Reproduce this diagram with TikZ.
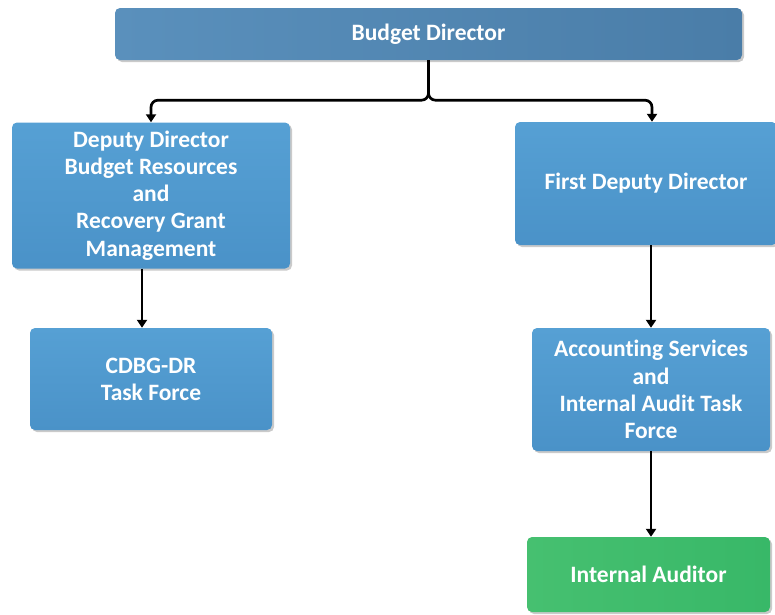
\documentclass[tikz,border=0pt]{standalone}
\usepackage{fontspec}
\setmainfont[Ligatures=NoCommon]{Carlito}
\usetikzlibrary{arrows.meta,shadows}
\definecolor{bdA}{HTML}{5A90BC}
\definecolor{bdB}{HTML}{4A7DA8}
\definecolor{blA}{HTML}{56A0D4}
\definecolor{blB}{HTML}{4A92C8}
\definecolor{grA}{HTML}{46C070}
\definecolor{grB}{HTML}{38B868}
\begin{document}
\begin{tikzpicture}[x=1pt,y=-1pt,
  box/.style={rectangle,rounded corners=5pt,text=white,align=center,
    font=\fontsize{23.5}{27.2}\selectfont\bfseries,inner sep=0pt,
    drop shadow={shadow xshift=2pt,shadow yshift=-2pt,opacity=0.35,fill=black!60}},
  bluebox/.style={box,top color=blA,bottom color=blB},
  bdbox/.style={box,left color=bdA,right color=bdB},
  grbox/.style={box,left color=grA,right color=grB},
  conn/.style={draw=black,line width=2.7pt,-{Triangle[width=10pt,length=8pt]}}]
\useasboundingbox (0,0) rectangle (775,614);
\node[bdbox,minimum width=627pt,minimum height=52pt] (bd) at (428.5,34) {Budget Director};
\node[bluebox,minimum width=278pt,minimum height=146pt] (dd) at (151,195.5) {Deputy Director\\Budget Resources\\and\\Recovery Grant\\Management};
\node[bluebox,minimum width=262pt,minimum height=123pt] (fd) at (646,183.5) {First Deputy Director};
\node[bluebox,minimum width=242pt,minimum height=102pt] (cd) at (151,379) {CDBG-DR\\Task Force};
\node[bluebox,minimum width=238pt,minimum height=123pt] (as) at (651,389.5) {Accounting Services\\and\\Internal Audit Task\\Force};
\node[grbox,minimum width=243pt,minimum height=75pt] (ia) at (648.5,574.5) {Internal Auditor};
\draw[conn,rounded corners=7pt] (bd.south) -- ++(0,40) -| (dd.north -| 151,0);
\draw[conn,rounded corners=7pt] (bd.south) -- ++(0,40) -| (fd.north -| 652,0);
\draw[conn] (dd.south -| 142,0) -- (cd.north -| 142,0);
\draw[conn] (fd.south -| 651,0) -- (as.north -| 651,0);
\draw[conn] (as.south -| 651,0) -- (ia.north -| 651,0);
\end{tikzpicture}
\end{document}
